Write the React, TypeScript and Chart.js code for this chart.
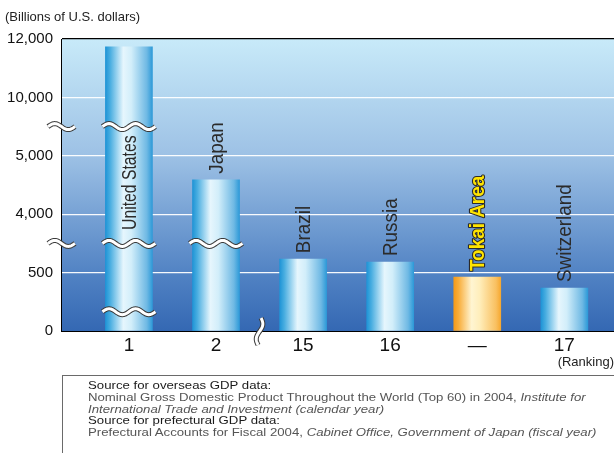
import React, { useEffect, useRef } from "react";
import { Chart, registerables } from "chart.js";

Chart.register(...registerables);

// ---- data ----
const categories = ["United States", "Japan", "Brazil", "Russia", "Tokai Area", "Switzerland"];
const rankings = ["1", "2", "15", "16", "—", "17"];
const gdpValues = [11730, 4590, 615, 590, 462, 368]; // billions of U.S. dollars
const yTickValues = [0, 500, 4000, 5000, 10000, 12000];
const yTickLabels = ["0", "500", "4,000", "5,000", "10,000", "12,000"];
const highlighted = [false, false, false, false, true, false];

// broken axis: map a real value onto the evenly spaced tick bands
function toAxis(v: number): number {
  if (v <= 1000) return v / 500; // lowest band keeps its 0–500 scale up to the break
  for (let i = 1; i < yTickValues.length - 1; i++) {
    if (v <= yTickValues[i + 1]) return i + (v - yTickValues[i]) / (yTickValues[i + 1] - yTickValues[i]);
  }
  return yTickValues.length - 1;
}

// break marks (axis units)
const axisBreaks = [1.5, 3.5];
const barBreaks: [number, number][] = [
  [0, 0.33],
  [0, 1.5],
  [0, 3.5],
  [1, 1.5],
];
const xAxisBreak = 1.5;

const FONT = "'Liberation Sans', Arial, Helvetica, sans-serif";

function drawWaveH(ctx: CanvasRenderingContext2D, x0: number, x1: number, y: number, periods: number, amp: number) {
  const path = () => {
    ctx.beginPath();
    const n = 40;
    for (let k = 0; k <= n; k++) {
      const t = k / n;
      const x = x0 + (x1 - x0) * t;
      const yy = y - amp * Math.sin(t * periods * Math.PI * 2);
      if (k === 0) ctx.moveTo(x, yy);
      else ctx.lineTo(x, yy);
    }
  };
  ctx.save();
  ctx.lineCap = "butt";
  ctx.lineJoin = "round";
  path();
  ctx.strokeStyle = "#3a3a3a";
  ctx.lineWidth = 5;
  ctx.stroke();
  path();
  ctx.strokeStyle = "#ffffff";
  ctx.lineWidth = 3;
  ctx.stroke();
  ctx.restore();
}

function drawWaveV(ctx: CanvasRenderingContext2D, y0: number, y1: number, x: number, periods: number, amp: number) {
  const path = () => {
    ctx.beginPath();
    const n = 30;
    for (let k = 0; k <= n; k++) {
      const t = k / n;
      const y = y0 + (y1 - y0) * t;
      const xx = x + amp * Math.sin(t * periods * Math.PI * 2) - (t - 0.5) * 3;
      if (k === 0) ctx.moveTo(xx, y);
      else ctx.lineTo(xx, y);
    }
  };
  ctx.save();
  ctx.lineJoin = "round";
  path();
  ctx.strokeStyle = "#3a3a3a";
  ctx.lineWidth = 5;
  ctx.stroke();
  path();
  ctx.strokeStyle = "#ffffff";
  ctx.lineWidth = 3;
  ctx.stroke();
  ctx.restore();
}

const backgroundPlugin = {
  id: "plotBackground",
  beforeDraw(chart: any) {
    const { ctx, chartArea } = chart;
    if (!chartArea) return;
    const g = ctx.createLinearGradient(0, chartArea.top, 0, chartArea.bottom);
    g.addColorStop(0, "#c8eaf9");
    g.addColorStop(0.4, "#9dc1e5");
    g.addColorStop(0.8, "#5283c4");
    g.addColorStop(1, "#3468b3");
    ctx.save();
    ctx.fillStyle = g;
    ctx.fillRect(chartArea.left, chartArea.top, chartArea.right - chartArea.left, chartArea.bottom - chartArea.top);
    ctx.restore();
  },
};

const labelPlugin = {
  id: "barLabels",
  afterDatasetsDraw(chart: any) {
    const { ctx } = chart;
    const meta = chart.getDatasetMeta(0);
    const yScale = chart.scales.y;
    meta.data.forEach((bar: any, i: number) => {
      const text = categories[i];
      const inside = i === 0;
      const startY = inside ? yScale.getPixelForValue(1.73) : bar.y - 6;
      ctx.save();
      ctx.translate(bar.x, startY);
      ctx.rotate(-Math.PI / 2);
      ctx.scale(inside ? 0.75 : 0.9, 1);
      ctx.textAlign = "left";
      ctx.textBaseline = "middle";
      if (highlighted[i]) {
        ctx.font = `bold 21px ${FONT}`;
        ctx.lineJoin = "round";
        ctx.strokeStyle = "#2a2a2a";
        ctx.lineWidth = 2.2;
        ctx.strokeText(text, 0, 1);
        ctx.fillStyle = "#ffe400";
        ctx.fillText(text, 0, 1);
      } else {
        ctx.font = `21px ${FONT}`;
        ctx.fillStyle = "#2b2b2b";
        ctx.fillText(text, 0, 1);
      }
      ctx.restore();
    });
  },
};

const breakPlugin = {
  id: "breakMarks",
  afterDraw(chart: any) {
    const { ctx, chartArea } = chart;
    const meta = chart.getDatasetMeta(0);
    const yScale = chart.scales.y;
    const xScale = chart.scales.x;
    axisBreaks.forEach((v) => {
      const y = yScale.getPixelForValue(v);
      drawWaveH(ctx, chartArea.left - 13, chartArea.left + 14, y, 1, 3);
    });
    barBreaks.forEach(([i, v]) => {
      const bar = meta.data[i];
      const y = yScale.getPixelForValue(v);
      const half = bar.width / 2 + 3;
      drawWaveH(ctx, bar.x - half, bar.x + half, y, 2, 3);
    });
    const xb = xScale.getPixelForValue(xAxisBreak);
    drawWaveV(ctx, chartArea.bottom - 13, chartArea.bottom + 14, xb, 1, 2.5);
  },
};

function barGradient(chart: any, i: number) {
  const fallback = highlighted[i] ? "#f8b040" : "#7cc0e6";
  const xScale = chart.scales?.x;
  if (!xScale || !chart.chartArea) return fallback;
  const cx = xScale.getPixelForValue(i);
  if (!Number.isFinite(cx)) return fallback;
  const g = chart.ctx.createLinearGradient(cx - 23.5, 0, cx + 23.5, 0);
  if (highlighted[i]) {
    g.addColorStop(0, "#f59a18");
    g.addColorStop(0.1, "#f8ad3a");
    g.addColorStop(0.38, "#fff5d2");
    g.addColorStop(0.55, "#ffeebb");
    g.addColorStop(0.9, "#f9c060");
    g.addColorStop(1, "#f6a830");
  } else {
    g.addColorStop(0, "#1f94d6");
    g.addColorStop(0.1, "#48ade0");
    g.addColorStop(0.38, "#e6f6fd");
    g.addColorStop(0.55, "#d2eefa");
    g.addColorStop(0.88, "#6fb9e4");
    g.addColorStop(1, "#2e9ad8");
  }
  return g;
}

export default function App() {
  const canvasRef = useRef<HTMLCanvasElement | null>(null);

  useEffect(() => {
    if (!canvasRef.current) return;
    const chart = new Chart(canvasRef.current, {
      type: "bar",
      data: {
        datasets: [
          {
            data: gdpValues.map((v, i) => ({ x: i, y: toAxis(v) })) as any,
            barThickness: 47,
            borderWidth: 0,
            backgroundColor: (c: any) => barGradient(c.chart, c.dataIndex),
          },
        ],
      },
      options: {
        responsive: false,
        animation: false,
        events: [],
        layout: { padding: { top: 39, left: 0, right: 0, bottom: 0 } },
        plugins: {
          legend: { display: false },
          tooltip: { enabled: false },
          title: { display: false },
        },
        scales: {
          x: {
            type: "linear",
            offset: false,
            min: -0.78,
            max: 5.57,
            z: 1,
            afterBuildTicks: (scale: any) => {
              scale.ticks = categories.map((_, i) => ({ value: i }));
            },
            afterFit: (scale: any) => {
              scale.height = 122;
            },
            grid: { color: "rgba(0,0,0,0)", drawTicks: false, offset: false },
            border: { display: true, color: "#000", width: 1 },
            ticks: {
              autoSkip: false,
              maxRotation: 0,
              padding: 3,
              color: "#111",
              font: { family: FONT, size: 19 },
              callback: (v: any) => rankings[v] ?? "",
            },
          },
          y: {
            type: "linear",
            min: 0,
            max: yTickLabels.length - 1,
            afterFit: (scale: any) => {
              scale.width = 61;
            },
            grid: {
              drawTicks: false,
              lineWidth: 1.3,
              color: (c: any) =>
                c.tick.value === 0
                  ? "rgba(0,0,0,0)"
                  : c.tick.value === yTickLabels.length - 1
                  ? "#000"
                  : "rgba(255,255,255,0.95)",
            },
            border: { display: true, color: "#000", width: 1 },
            ticks: {
              stepSize: 1,
              padding: 8,
              color: "#111",
              font: { family: FONT, size: 15 },
              callback: (v: any) => yTickLabels[v] ?? "",
            },
          },
        },
      },
      plugins: [backgroundPlugin, labelPlugin, breakPlugin],
    });
    return () => chart.destroy();
  }, []);

  const line = { fontSize: 11, lineHeight: "11.8px", whiteSpace: "nowrap" as const };

  return (
    <div
      style={{
        position: "absolute",
        left: 0,
        top: 0,
        width: 614,
        height: 453,
        overflow: "hidden",
        background: "#fff",
        fontFamily: FONT,
      }}
    >
      <canvas ref={canvasRef} width={614} height={453} style={{ display: "block", width: 614, height: 453 }} />
      <div style={{ position: "absolute", left: 5, top: 9, fontSize: 13, lineHeight: "15px", color: "#222", whiteSpace: "nowrap" }}>
        (Billions of U.S. dollars)
      </div>
      <div style={{ position: "absolute", right: 0, top: 354, fontSize: 13, lineHeight: "15px", color: "#222", whiteSpace: "nowrap" }}>
        (Ranking)
      </div>
      <div
        style={{
          position: "absolute",
          left: 62,
          top: 375,
          width: 620,
          height: 100,
          borderTop: "1px solid #6a6a6a",
          borderLeft: "1px solid #6a6a6a",
          boxSizing: "border-box",
          padding: "4px 0 0 25px",
          color: "#555",
        }}
      >
        <div style={{ transform: "scaleX(1.2)", transformOrigin: "0 0" }}>
          <div style={{ ...line, color: "#1a1a1a" }}>Source for overseas GDP data:</div>
          <div style={line}>
            Nominal Gross Domestic Product Throughout the World (Top 60) in 2004, <i>Institute for</i>
          </div>
          <div style={line}>
            <i>International Trade and Investment (calendar year)</i>
          </div>
          <div style={{ ...line, color: "#1a1a1a" }}>Source for prefectural GDP data:</div>
          <div style={line}>
            Prefectural Accounts for Fiscal 2004, <i>Cabinet Office, Government of Japan (fiscal year)</i>
          </div>
        </div>
      </div>
    </div>
  );
}
